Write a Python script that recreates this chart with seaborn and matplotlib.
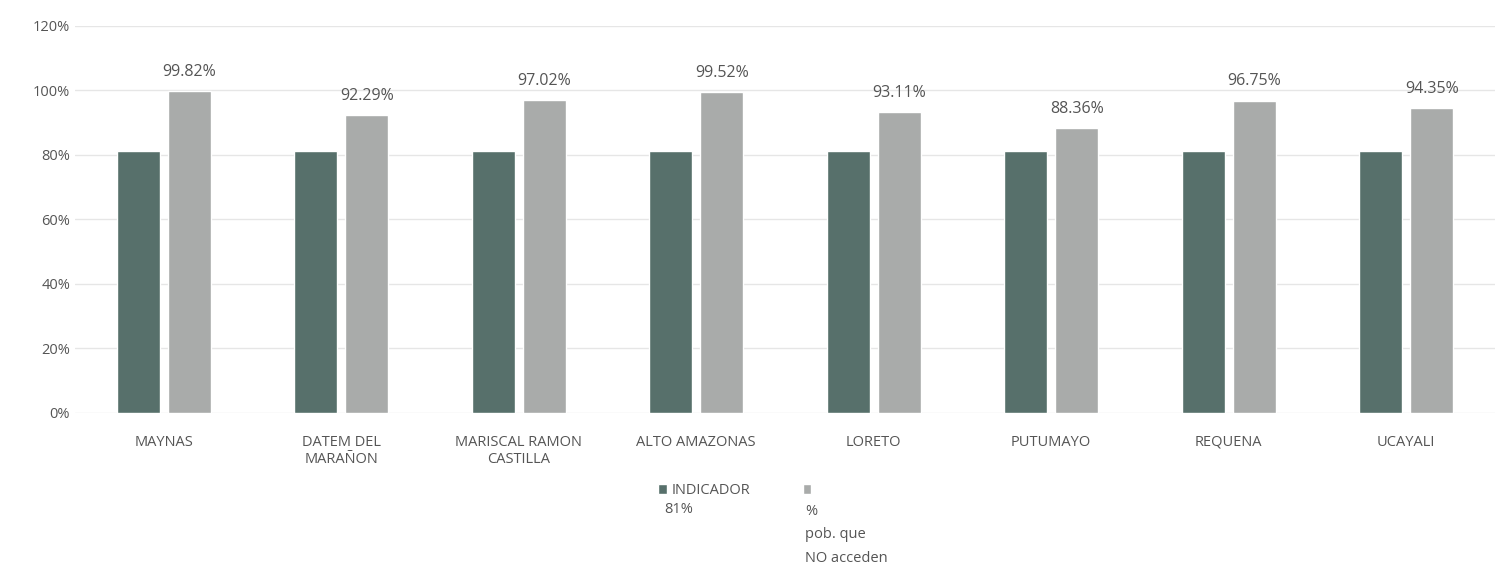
import pandas as pd
import numpy as np
import seaborn as sns
from matplotlib import pyplot as plt
from matplotlib.ticker import FuncFormatter

provincias = ['MAYNAS', 'DATEM DEL\nMARAÑON', 'MARISCAL RAMON\nCASTILLA', 'ALTO AMAZONAS',
              'LORETO', 'PUTUMAYO', 'REQUENA', 'UCAYALI']
indicador = [81, 81, 81, 81, 81, 81, 81, 81]
no_acceden = [99.82, 92.29, 97.02, 99.52, 93.11, 88.36, 96.75, 94.35]
series = ['INDICADOR', ' ']
series_extra = ['81%', '%\npob. que\nNO acceden']
colores = ['#57706b', '#a9abaa']

df = pd.DataFrame({'prov': provincias * 2,
                   'valor': indicador + no_acceden,
                   'serie': [series[0]] * 8 + [series[1]] * 8})

sns.set_style('white')
plt.rcParams['font.family'] = ['Open Sans', 'DejaVu Sans']
gris = '#555555'

fig, ax = plt.subplots(figsize=(14.98, 5.69), dpi=100)
fig.subplots_adjust(left=0.05, right=0.998, top=0.955, bottom=0.275)
sns.barplot(data=df, x='prov', y='valor', hue='serie', palette=colores,
            width=0.575, gap=0.16, ax=ax, saturation=1)

# etiquetas solo en la serie clara
ax.bar_label(ax.containers[1], labels=['%.2f%%' % v for v in no_acceden],
             padding=8, fontsize=11.5, color=gris)

ax.set_ylim(0, 120)
ax.set_yticks(range(0, 121, 20))
ax.yaxis.set_major_formatter(FuncFormatter(lambda v, p: '%d%%' % v))
ax.grid(axis='y', color='#e6e6e6', linewidth=1)
ax.set_axisbelow(True)
for s in ax.spines.values():
    s.set_visible(False)
ax.tick_params(axis='both', length=0, labelsize=10.5, colors=gris)
ax.tick_params(axis='x', pad=16)
ax.set_xlabel('')
ax.set_ylabel('')

ax.get_legend().remove()
h, l = ax.get_legend_handles_labels()
fig.legend(h, series, loc='upper left', bbox_to_anchor=(645 / 1498, 1 - 470 / 569),
           ncol=2, frameon=False, fontsize=10.5, labelcolor=gris,
           handlelength=0.6, handleheight=0.6, handletextpad=0.3, columnspacing=3.6)
fig.text(664 / 1498, 1 - 502 / 569, series_extra[0], fontsize=10.5, color=gris, va='top')
fig.text(805 / 1498, 1 - 504 / 569, series_extra[1], fontsize=10.5, color=gris, va='top',
         linespacing=1.75)

plt.savefig('out.png', dpi=100)
